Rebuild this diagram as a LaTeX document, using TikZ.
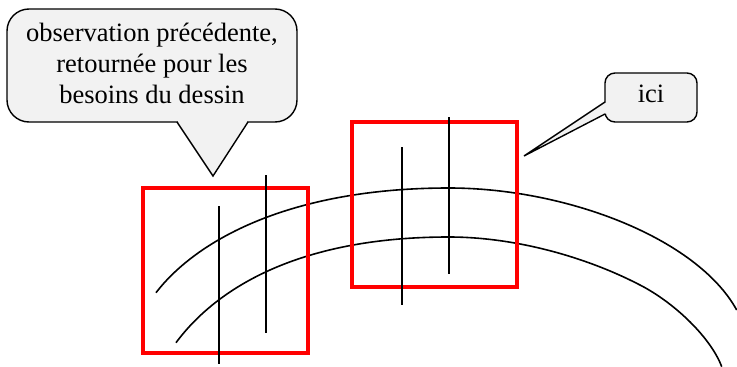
\documentclass[tikz,border=0pt]{standalone}
\usepackage{fontspec}
\setmainfont{Liberation Serif}
\begin{document}
\begin{tikzpicture}[x=1pt,y=-1pt,
  redbox/.style={draw=red,line width=3.6pt},
  tick/.style={draw=black,line width=1.6pt},
  arc/.style={draw=black,line width=1.6pt},
  callout/.style={draw=black,line width=1.4pt,fill=black!5,line join=round},
  pointer/.style={draw=black,line width=1.4pt,line join=miter},
  ctext/.style={font=\fontsize{26.5}{31}\selectfont,align=center,inner sep=0pt}]
\useasboundingbox (0,0) rectangle (737,367);
% arcs
\draw[arc] (156,292.7) .. controls (196,240.7) and (289,188) .. (449,188)
  .. controls (566,188) and (697,238) .. (736.7,310);
\draw[arc] (176,342.7) .. controls (214,291.4) and (294,237) .. (449,237)
  .. controls (514,237) and (585,256.4) .. (640,285)
  .. controls (675,303) and (711,338) .. (721.7,366.7);
% red boxes
\draw[redbox] (143,188) rectangle (308,353);
\draw[redbox] (352,122) rectangle (517,287);
% vertical lines
\draw[tick] (219,206) -- (219,364);
\draw[tick] (266,175) -- (266,333);
\draw[tick] (402,147) -- (402,305);
\draw[tick] (449,117) -- (449,274);
% callout 1
\draw[callout,rounded corners=22pt] (7,9) rectangle (297,122);
\fill[black!5] (178,120) -- (178,122) -- (213,176) -- (247,122) -- (247,120) -- cycle;
\draw[pointer] (177,122) -- (213,176) -- (248,122);
\node[ctext] (t1) at (152,63) {observation précédente,\\retournée pour les\\besoins du dessin};
% callout 2
\draw[callout,rounded corners=10pt] (605,73) rectangle (697,122);
\fill[black!5] (607,102.5) -- (605,102.5) -- (524,156) -- (605,113.5) -- (607,113.5) -- cycle;
\draw[pointer] (605,102) -- (524,156) -- (605,114);
\node[ctext] (t2) at (651,94) {ici};
\end{tikzpicture}
\end{document}
